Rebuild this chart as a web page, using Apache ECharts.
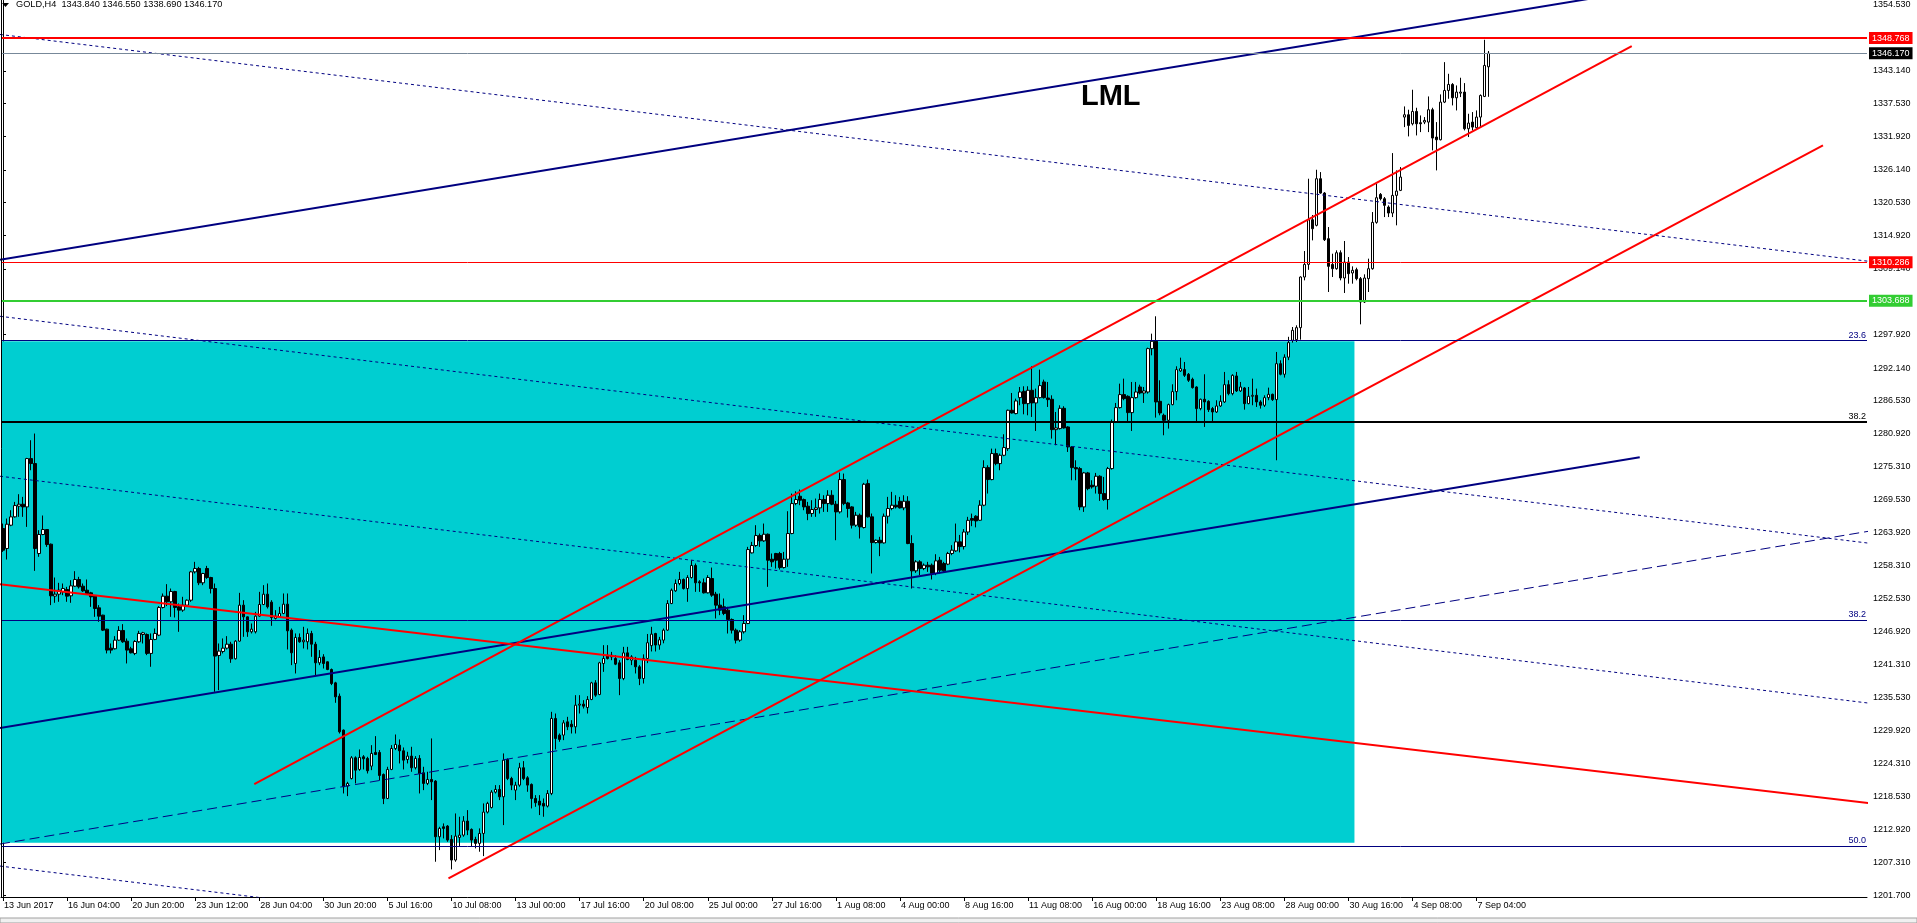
<!DOCTYPE html>
<html><head><meta charset="utf-8">
<script src="https://cdn.jsdelivr.net/npm/echarts@6/dist/echarts.min.js"></script>
<style>html,body{margin:0;padding:0;background:#fff;overflow:hidden}#c{width:1917px;height:923px}</style>
</head><body><div id="c"></div>
<script>
// H4 candles, 13 Jun 2017 12:00 -> 7 Sep 2017 16:00 : [open, close, low, high]
const candles = [
[1264.60,1260.88,1260.59,1265.45],[1261.17,1265.34,1259.28,1266.31],[1265.17,1266.60,1265.00,1267.74],[1266.60,1268.54,1266.48,1269.17],
[1268.43,1268.77,1266.60,1270.49],[1268.77,1268.31,1266.60,1270.03],[1268.31,1276.60,1264.88,1276.72],[1276.60,1275.75,1274.60,1279.75],
[1275.75,1261.17,1257.33,1280.90],[1260.31,1263.57,1259.74,1264.31],[1263.57,1264.43,1263.45,1266.83],[1264.43,1261.85,1261.45,1264.50],
[1261.91,1253.05,1251.45,1262.02],[1253.00,1253.33,1251.85,1256.19],[1253.33,1254.02,1252.02,1255.28],[1253.73,1254.30,1253.16,1255.16],
[1254.13,1252.99,1252.02,1254.59],[1253.05,1254.76,1251.85,1255.73],[1254.70,1255.85,1254.59,1257.28],[1255.85,1254.59,1254.30,1256.31],
[1254.70,1253.90,1253.73,1255.16],[1254.02,1253.45,1253.33,1255.85],[1253.56,1252.88,1251.16,1253.73],[1252.99,1250.87,1249.44,1253.16],
[1250.99,1249.56,1248.59,1251.45],[1249.73,1247.16,1247.00,1249.80],[1247.33,1243.73,1243.16,1247.40],[1244.07,1243.73,1243.16,1244.87],
[1243.96,1245.44,1243.84,1246.13],[1245.44,1247.10,1245.33,1247.84],[1247.10,1245.16,1244.98,1248.19],[1245.27,1243.73,1241.44,1245.73],
[1243.96,1243.27,1243.16,1244.30],[1243.16,1245.21,1242.87,1245.44],[1245.16,1246.59,1244.98,1247.04],[1246.41,1246.70,1244.87,1246.87],
[1246.41,1243.16,1242.87,1246.59],[1243.16,1245.56,1240.87,1246.59],[1245.56,1246.59,1245.44,1247.44],[1246.30,1251.05,1246.13,1251.28],
[1251.05,1252.99,1250.87,1253.45],[1252.99,1252.02,1251.28,1255.05],[1252.02,1253.79,1249.44,1254.30],[1253.79,1251.05,1249.33,1253.90],
[1251.16,1250.59,1246.87,1251.73],[1250.59,1251.45,1250.30,1252.88],[1251.45,1252.30,1251.16,1252.42],[1252.30,1257.16,1252.02,1257.33],
[1257.16,1257.74,1256.88,1258.88],[1257.74,1255.28,1254.88,1258.02],[1255.28,1256.88,1254.88,1256.99],[1257.74,1256.19,1255.96,1258.19],
[1256.19,1254.30,1253.45,1256.31],[1254.30,1242.70,1236.58,1255.16],[1242.81,1243.56,1236.86,1244.87],[1243.50,1244.07,1243.16,1245.73],
[1244.07,1244.75,1243.84,1246.13],[1244.75,1242.24,1241.55,1245.16],[1242.24,1245.27,1242.13,1245.44],[1245.27,1251.45,1245.16,1253.56],
[1251.45,1249.44,1246.01,1252.30],[1249.44,1246.87,1246.01,1249.50],[1246.87,1247.33,1246.59,1248.30],[1246.87,1249.56,1246.59,1250.30],
[1249.56,1251.56,1249.44,1253.73],[1251.56,1253.33,1251.45,1254.88],[1253.33,1251.16,1250.87,1255.16],[1251.96,1249.33,1247.90,1252.30],
[1249.16,1249.56,1248.99,1250.59],[1249.44,1250.02,1249.27,1251.16],[1250.02,1251.62,1249.90,1253.45],[1251.62,1247.04,1243.84,1253.45],
[1247.16,1243.27,1241.15,1247.44],[1241.44,1245.90,1239.72,1246.59],[1245.90,1245.16,1245.00,1246.59],[1245.16,1245.44,1244.01,1247.73],
[1245.16,1246.59,1243.84,1247.44],[1246.59,1244.75,1242.58,1247.04],[1244.75,1241.55,1239.44,1245.16],[1241.55,1242.47,1241.15,1243.73],
[1242.57,1241.43,1240.57,1243.03],[1241.72,1240.40,1240.29,1241.80],[1240.40,1238.00,1237.72,1240.57],[1238.11,1235.71,1234.69,1238.29],
[1235.83,1229.71,1229.42,1236.28],[1230.00,1220.28,1219.13,1230.11],[1220.39,1220.85,1218.67,1221.13],[1221.70,1225.25,1221.53,1225.54],
[1225.25,1223.13,1220.85,1225.50],[1223.25,1225.31,1223.02,1226.68],[1225.42,1225.08,1223.25,1225.71],[1225.14,1223.02,1222.56,1225.42],
[1223.82,1226.00,1223.13,1227.42],[1226.17,1225.82,1225.71,1228.97],[1226.17,1222.22,1221.42,1226.57],[1222.39,1218.27,1217.30,1222.56],
[1218.27,1223.25,1218.16,1223.71],[1223.25,1226.85,1223.13,1227.42],[1226.85,1227.54,1226.57,1229.25],[1227.42,1226.45,1224.28,1228.40],
[1226.45,1224.85,1223.25,1227.02],[1224.96,1225.54,1224.28,1226.28],[1225.54,1223.54,1222.85,1227.14],[1223.54,1225.14,1223.25,1225.54],
[1225.14,1222.56,1219.13,1225.71],[1222.68,1220.85,1219.70,1223.71],[1220.85,1221.53,1220.56,1222.85],[1221.53,1221.13,1217.99,1228.57],
[1221.25,1211.70,1207.41,1221.42],[1211.70,1213.13,1209.41,1213.41],[1213.41,1213.13,1211.41,1213.99],[1213.53,1211.13,1210.84,1213.70],
[1211.24,1207.70,1206.10,1211.98],[1207.70,1211.81,1207.41,1215.70],[1211.58,1211.98,1209.98,1215.13],[1211.98,1214.39,1211.70,1215.24],
[1214.39,1212.84,1211.98,1216.27],[1212.96,1211.13,1209.98,1213.13],[1211.24,1210.56,1209.70,1211.70],[1210.56,1212.27,1209.13,1213.13],
[1212.27,1215.93,1208.38,1217.42],[1215.93,1217.42,1215.70,1217.70],[1216.73,1219.36,1216.56,1219.70],[1219.36,1219.82,1219.13,1220.56],
[1219.82,1218.56,1217.99,1220.56],[1218.56,1224.85,1213.70,1226.00],[1224.96,1221.70,1221.42,1225.14],[1221.70,1220.56,1219.70,1221.99],
[1219.70,1220.56,1217.99,1221.13],[1220.56,1223.54,1220.28,1224.39],[1223.54,1221.70,1221.42,1224.68],[1221.82,1220.56,1219.42,1222.10],
[1220.68,1218.27,1216.56,1220.85],[1218.27,1217.53,1216.84,1218.84],[1217.82,1217.13,1215.42,1218.84],[1217.42,1216.96,1215.13,1218.27],
[1216.96,1219.13,1216.73,1219.70],[1219.13,1232.00,1218.84,1233.14],[1232.00,1228.57,1226.68,1232.85],[1229.14,1228.40,1228.00,1229.42],
[1229.14,1231.25,1228.28,1231.71],[1231.42,1230.57,1230.00,1232.28],[1231.02,1230.57,1229.42,1231.71],[1230.57,1234.28,1229.42,1236.00],
[1234.28,1234.46,1232.85,1236.00],[1234.46,1234.11,1233.71,1235.14],[1233.88,1235.26,1232.85,1235.83],[1235.26,1238.11,1235.14,1238.29],
[1238.11,1236.00,1235.71,1238.57],[1236.11,1241.55,1236.00,1241.72],[1241.43,1242.29,1240.00,1244.58],[1242.86,1242.29,1242.12,1244.58],
[1242.57,1242.86,1242.00,1243.43],[1242.29,1241.32,1241.15,1242.86],[1241.55,1238.86,1236.00,1242.00],[1238.86,1243.26,1238.57,1244.29],
[1243.26,1242.12,1242.00,1244.29],[1242.00,1242.57,1241.15,1242.86],[1242.00,1240.86,1239.72,1242.57],[1240.86,1238.86,1237.72,1241.15],
[1238.86,1242.30,1238.00,1243.00],[1242.30,1245.00,1241.50,1246.50],[1244.50,1246.47,1243.50,1247.73],[1246.58,1244.60,1243.50,1246.70],
[1244.60,1245.50,1243.80,1246.00],[1245.44,1247.16,1244.90,1247.44],[1247.16,1251.73,1247.04,1252.30],[1251.73,1254.02,1251.62,1254.30],
[1253.90,1255.16,1253.73,1255.85],[1255.16,1255.85,1254.87,1257.16],[1255.85,1254.30,1254.13,1256.02],[1254.30,1256.19,1252.02,1256.59],
[1256.19,1258.25,1256.02,1259.16],[1258.25,1255.28,1253.73,1258.59],[1255.45,1255.28,1253.73,1255.73],[1255.28,1253.56,1253.45,1256.02],
[1253.56,1256.19,1253.45,1256.59],[1256.02,1253.16,1252.87,1257.90],[1253.33,1251.45,1249.16,1253.73],[1251.45,1250.59,1249.73,1253.45],
[1251.16,1250.02,1249.73,1252.59],[1250.59,1248.99,1246.58,1251.16],[1248.99,1247.16,1246.58,1249.16],[1247.16,1245.44,1244.87,1247.44],
[1245.44,1246.87,1245.16,1247.16],[1246.87,1248.30,1246.58,1249.73],[1248.30,1260.99,1248.19,1261.45],[1260.42,1261.68,1260.31,1262.31],
[1261.68,1263.39,1261.45,1265.17],[1263.39,1262.48,1261.45,1263.74],[1262.48,1263.62,1262.31,1265.45],[1263.62,1259.16,1254.59,1263.74],
[1259.33,1258.88,1258.02,1260.31],[1260.31,1259.16,1257.73,1260.42],[1260.31,1257.90,1257.56,1260.59],[1257.90,1259.33,1257.73,1260.59],
[1259.33,1263.74,1258.02,1267.57],[1263.74,1268.88,1263.62,1270.60],[1268.88,1269.57,1268.60,1270.99],[1270.14,1269.46,1268.60,1271.29],
[1269.57,1268.31,1267.74,1269.74],[1268.43,1267.17,1266.03,1269.17],[1267.17,1267.86,1266.60,1269.46],[1267.86,1268.14,1266.60,1269.74],
[1268.14,1269.57,1267.17,1270.60],[1269.57,1268.88,1267.45,1270.31],[1268.88,1270.31,1267.45,1271.17],[1270.31,1268.77,1268.60,1271.17],
[1268.77,1267.45,1262.59,1269.34],[1267.45,1273.00,1267.17,1274.20],[1273.00,1268.88,1268.60,1274.03],[1268.99,1268.03,1266.48,1269.17],
[1268.31,1265.17,1264.60,1268.43],[1265.17,1266.88,1264.88,1267.45],[1266.88,1264.88,1262.88,1267.17],[1264.77,1272.20,1264.60,1272.43],
[1272.31,1266.60,1266.48,1273.00],[1266.60,1262.19,1256.88,1267.17],[1262.19,1262.59,1262.02,1262.71],[1262.59,1262.13,1259.85,1263.17],
[1262.13,1266.71,1262.02,1267.17],[1266.71,1268.03,1265.45,1270.03],[1268.03,1268.60,1267.74,1270.89],[1268.60,1268.31,1268.03,1270.31],
[1269.28,1268.14,1268.03,1270.03],[1268.14,1269.28,1267.74,1270.31],[1269.28,1262.02,1261.91,1270.14],[1262.02,1257.33,1254.30,1263.45],
[1257.33,1258.88,1256.99,1259.16],[1258.88,1257.73,1256.59,1259.16],[1257.73,1258.31,1257.45,1258.59],[1258.31,1258.02,1257.16,1258.88],
[1258.31,1256.88,1255.85,1258.59],[1256.88,1259.05,1256.59,1260.19],[1259.16,1257.45,1256.88,1259.73],[1258.59,1257.33,1257.16,1258.88],
[1258.48,1260.31,1258.31,1260.59],[1260.31,1260.88,1260.02,1261.74],[1260.76,1262.31,1260.59,1265.45],[1262.31,1261.50,1260.50,1263.50],
[1261.50,1264.00,1261.00,1264.50],[1264.00,1266.00,1263.50,1266.60],[1266.31,1266.02,1265.00,1267.16],[1266.71,1265.90,1264.80,1266.88],
[1266.02,1268.60,1265.90,1269.45],[1268.60,1275.05,1268.42,1276.31],[1275.05,1273.00,1270.60,1275.45],[1273.00,1277.46,1272.88,1278.31],
[1277.46,1275.74,1275.45,1278.31],[1275.74,1277.17,1274.60,1277.46],[1277.17,1278.49,1277.00,1280.77],[1278.31,1284.89,1277.91,1285.00],
[1284.89,1284.43,1284.32,1287.86],[1284.32,1286.49,1284.20,1286.89],[1287.06,1288.03,1285.75,1288.89],[1288.15,1286.03,1284.20,1289.01],
[1286.03,1288.32,1284.03,1289.01],[1288.32,1286.15,1283.75,1292.44],[1286.15,1287.06,1281.34,1288.61],[1287.06,1289.12,1286.89,1291.87],
[1289.75,1287.06,1286.89,1290.15],[1287.00,1286.72,1285.46,1289.75],[1286.78,1281.57,1280.03,1287.46],[1281.57,1281.86,1278.89,1284.60],
[1281.75,1285.23,1281.57,1285.75],[1285.23,1281.86,1281.75,1285.58],[1282.03,1278.60,1277.74,1282.15],[1278.60,1275.05,1272.88,1278.71],
[1275.05,1274.83,1272.88,1276.31],[1274.88,1268.31,1267.74,1275.17],[1268.31,1274.14,1267.45,1274.31],[1274.14,1271.45,1271.17,1274.31],
[1272.03,1271.74,1271.45,1272.88],[1271.86,1273.57,1270.60,1274.14],[1273.57,1270.60,1269.34,1273.74],[1270.60,1269.57,1269.34,1273.45],
[1269.57,1274.88,1267.85,1275.17],[1274.88,1282.89,1274.71,1283.29],[1282.90,1285.35,1282.70,1286.15],[1285.35,1287.58,1285.18,1289.46],
[1287.58,1286.89,1286.61,1290.32],[1287.29,1284.49,1282.89,1287.46],[1284.49,1287.06,1281.34,1289.75],[1287.06,1288.03,1286.89,1289.75],
[1288.89,1287.86,1287.63,1289.29],[1287.86,1288.21,1286.15,1288.89],[1288.03,1295.47,1287.75,1295.64],[1295.47,1296.73,1294.32,1298.04],
[1296.73,1286.32,1283.63,1301.02],[1286.43,1284.43,1284.03,1290.04],[1284.03,1283.17,1280.60,1284.32],[1283.17,1285.86,1281.75,1286.03],
[1285.86,1288.09,1285.75,1289.35],[1288.09,1291.87,1286.61,1292.44],[1291.64,1292.04,1291.47,1293.92],[1291.87,1290.89,1290.61,1293.18],
[1291.07,1290.04,1289.75,1291.29],[1290.21,1288.78,1288.61,1290.49],[1288.89,1285.18,1282.89,1289.01],[1285.18,1286.78,1284.89,1286.89],
[1286.78,1286.32,1282.03,1291.07],[1286.43,1285.00,1284.60,1286.61],[1285.18,1284.60,1282.89,1285.46],[1284.60,1285.63,1284.43,1286.61],
[1285.63,1286.43,1285.46,1287.46],[1286.32,1289.29,1286.15,1291.47],[1289.29,1287.75,1287.46,1290.04],[1287.75,1290.89,1287.46,1291.07],
[1290.78,1288.21,1288.03,1291.47],[1288.21,1288.89,1288.03,1289.75],[1288.72,1286.03,1285.00,1288.89],[1286.03,1287.29,1285.92,1288.89],
[1287.29,1287.46,1285.75,1290.32],[1287.46,1286.32,1285.46,1288.61],[1286.32,1285.75,1285.18,1286.61],[1285.75,1287.06,1285.46,1287.46],
[1287.06,1287.63,1286.61,1288.78],[1287.63,1286.72,1286.49,1287.75],[1286.72,1292.89,1276.31,1294.90],[1292.89,1291.07,1290.89,1293.47],
[1291.07,1294.00,1290.50,1294.50],[1294.00,1296.50,1293.50,1297.50],[1296.90,1298.61,1296.50,1299.18],[1297.00,1299.07,1296.60,1299.47],
[1299.07,1307.76,1297.01,1307.88],[1307.76,1309.93,1307.19,1312.22],[1309.93,1317.59,1309.00,1324.63],[1317.59,1316.05,1314.05,1318.40],
[1316.63,1324.63,1316.45,1326.17],[1324.63,1322.17,1322.06,1325.77],[1322.17,1314.16,1313.94,1322.34],[1314.34,1309.59,1305.19,1316.34],
[1309.93,1309.19,1307.76,1311.76],[1309.19,1311.93,1309.02,1312.34],[1311.93,1307.59,1307.19,1312.34],[1307.59,1310.33,1305.02,1313.94],
[1310.33,1308.33,1306.62,1311.19],[1308.45,1308.91,1306.62,1309.59],[1309.02,1307.48,1307.19,1309.36],[1307.48,1303.47,1299.64,1307.76],
[1303.47,1307.59,1303.30,1308.22],[1307.48,1309.19,1305.19,1310.91],[1309.19,1317.14,1309.02,1318.91],[1317.14,1321.37,1316.91,1323.77],
[1321.94,1321.20,1320.91,1322.17],[1321.20,1320.06,1318.05,1321.49],[1319.77,1318.74,1318.05,1320.06],[1318.74,1321.77,1318.05,1329.03],
[1321.77,1322.51,1316.63,1326.06],[1322.63,1324.92,1322.51,1326.63],[1335.21,1335.61,1333.49,1337.04],[1335.61,1333.78,1331.89,1336.47],
[1334.06,1336.18,1333.78,1339.90],[1336.18,1334.06,1332.06,1336.81],[1334.24,1334.06,1332.63,1335.49],[1334.35,1334.64,1334.00,1335.21],
[1334.35,1336.47,1332.63,1338.75],[1336.47,1331.61,1329.49,1336.81],[1331.78,1331.32,1326.06,1334.35],[1331.32,1337.78,1331.21,1339.10],
[1337.78,1339.78,1337.61,1344.64],[1339.78,1340.81,1338.35,1342.64],[1340.81,1338.52,1337.21,1341.04],[1338.52,1339.50,1336.35,1340.64],
[1339.32,1339.50,1338.64,1341.96],[1339.50,1333.21,1332.92,1341.04],[1333.21,1334.18,1331.78,1335.78],[1334.35,1333.49,1332.92,1336.07],
[1333.38,1335.21,1333.21,1336.35],[1335.21,1338.92,1333.49,1339.10],[1338.75,1344.07,1338.64,1348.47],[1343.84,1346.17,1338.69,1346.55]
];

const timeLabels = ['13 Jun 2017','16 Jun 04:00','20 Jun 20:00','23 Jun 12:00','28 Jun 04:00','30 Jun 20:00','5 Jul 16:00',
 '10 Jul 08:00','13 Jul 00:00','17 Jul 16:00','20 Jul 08:00','25 Jul 00:00','27 Jul 16:00','1 Aug 08:00','4 Aug 00:00',
 '8 Aug 16:00','11 Aug 08:00','16 Aug 00:00','18 Aug 16:00','23 Aug 08:00','28 Aug 00:00','30 Aug 16:00','4 Sep 08:00','7 Sep 04:00'];
const labelEvery = 16;
const totalSlots = 466;

const priceTicks = [1201.70,1207.31,1212.92,1218.53,1224.31,1229.92,1235.53,1241.31,1246.92,1252.53,1258.31,1263.92,
 1269.53,1275.31,1280.92,1286.53,1292.14,1297.92,1309.14,1314.92,1320.53,1326.14,1331.92,1337.53,1343.14,1354.53];

// objects drawn on the chart: [barIndex, price] end points
const navyUpperLine = [[-0.75,1310.71],[420,1358.2]];
const navyLowerLine = [[-0.75,1230.35],[408.75,1276.83]];
const redChannelTop = [[62.75,1220.74],[406.75,1347.38]];
const redChannelBottom = [[111.25,1204.55],[454.5,1330.35]];
const redFalling = [[-0.75,1255.05],[466,1217.48]];
const navyDashed = [[-0.75,1210.45],[466,1264.14]];
const dotLineA = [[-0.75,1349.39],[466,1310.45]];
const dotLineB = [[-0.75,1301.02],[466,1262.08]];
const dotLineC = [[-0.75,1273.57],[466,1234.63]];
const dotLineD = [[-0.75,1206.67],[80,1199.94]];
const boxBars = [-0.75, 337.5];
const boxPrices = [1210.67, 1296.73];

const redLevel = 1348.768, askLine = 1346.170, redLevel2 = 1310.286, greenLevel = 1303.688;
const fibLevels = [1296.85, 1282.87, 1248.85, 1210.05];
const fibNames = ['23.6','38.2','38.2','50.0'];
const fibColors = ['#000080','#000000','#000080','#000080'];
const fibWidths = [1, 2, 1, 1];

const FONT = 'Liberation Sans';
const chart = echarts.init(document.getElementById('c'));

function seg(pts, color, width, type) {
  return { type:'line', xAxisIndex:1, yAxisIndex:0, data:pts, symbol:'none', silent:true, z:4,
    lineStyle:{color:color, width:width, type:type||'solid'}, animation:false };
}
function boxLabel(txt, bg) {
  return { show:true, position:'end', distance:2, formatter:txt, backgroundColor:bg, color:'#fff',
    fontFamily:FONT, fontSize:9, padding:[1,3,1,3], lineHeight:10 };
}
const marks = [
  {yAxis:redLevel, lineStyle:{color:'#ff0000', width:2, type:'solid'}, label:boxLabel('1348.768','#ff0000')},
  {yAxis:askLine, lineStyle:{color:'#778899', width:1, type:'solid'}, label:boxLabel('1346.170','#000000')},
  {yAxis:redLevel2, lineStyle:{color:'#ff0000', width:1, type:'solid'}, label:boxLabel('1310.286','#ff0000')},
  {yAxis:greenLevel, lineStyle:{color:'#32cd32', width:2, type:'solid'}, label:boxLabel('1303.688','#32cd32')}
];
fibLevels.forEach((v,i)=>marks.push({yAxis:v, lineStyle:{color:fibColors[i], width:fibWidths[i], type:'solid'},
  label:{show:true, position:'insideEndTop', distance:1, formatter:fibNames[i], color:fibColors[i], fontFamily:FONT, fontSize:9}}));

const cats = Array.from({length:totalSlots}, (_, i) => String(i));
const showIdx = (i) => i % labelEvery === 0 && i / labelEvery < timeLabels.length;

chart.setOption({
  animation:false,
  backgroundColor:'#ffffff',
  grid:{left:1, right:50, top:0, bottom:26, containLabel:false},
  xAxis:[
    {type:'category', data:cats, boundaryGap:true,
     axisLine:{show:true, lineStyle:{color:'#000', width:1}},
     axisTick:{show:true, alignWithLabel:true, interval:(i)=>showIdx(i), length:4, lineStyle:{color:'#000'}},
     axisLabel:{show:true, interval:(i)=>showIdx(i), formatter:(v, i)=>timeLabels[i/labelEvery] || '',
       align:'left', padding:[0,0,0,1], margin:4, color:'#000', fontFamily:FONT, fontSize:9},
     splitLine:{show:false}},
    {type:'value', min:-0.5, max:totalSlots-0.5, show:false}
  ],
  yAxis:[{type:'value', position:'right', min:1201.36, max:1355.22, scale:true,
     axisLine:{show:true, lineStyle:{color:'#000', width:1}},
     axisTick:{show:true, customValues:priceTicks, length:3, lineStyle:{color:'#000'}},
     axisLabel:{show:true, customValues:priceTicks, formatter:(v)=>v.toFixed(3), margin:6, color:'#000', fontFamily:FONT, fontSize:9},
     splitLine:{show:false}}],
  graphic:[
    {type:'line', shape:{x1:1.5, y1:0, x2:1.5, y2:897}, style:{stroke:'#000', lineWidth:1}, z:10},
    {type:'polygon', shape:{points:[[2,3],[9,3],[5.5,7]]}, style:{fill:'#000'}, z:10},
    {type:'text', left:16, top:0, style:{text:'GOLD,H4  1343.840 1346.550 1338.690 1346.170', fill:'#000', font:'9.2px "Liberation Sans"'}, z:10},
    {type:'text', left:1081, top:82, style:{text:'LML', fill:'#000', font:'bold 29px "Liberation Sans"'}, z:10},
    {type:'rect', shape:{x:0, y:918, width:1917, height:5}, style:{fill:'#f0f0f0', stroke:'#a0a0a0', lineWidth:1}, z:10}
  ],
  series:[
    {type:'line', xAxisIndex:1, yAxisIndex:0, data:[[boxBars[0],boxPrices[1]],[boxBars[1],boxPrices[0]]], symbol:'none',
     lineStyle:{opacity:0}, silent:true, z:1,
     markArea:{silent:true, itemStyle:{color:'#00ced1', opacity:1}, data:[[{coord:[boxBars[0],boxPrices[1]]},{coord:[boxBars[1],boxPrices[0]]}]]}},
    {type:'candlestick', xAxisIndex:0, yAxisIndex:0, data:candles, barWidth:3, z:3, silent:true,
     itemStyle:{color:'#ffffff', color0:'#000000', borderColor:'#000000', borderColor0:'#000000', borderWidth:1}},
    seg(dotLineA, '#000080', 1, [3,3]),
    seg(dotLineB, '#000080', 1, [3,3]),
    seg(dotLineC, '#000080', 1, [3,3]),
    seg(dotLineD, '#000080', 1, [3,3]),
    seg(navyDashed, '#000080', 1, [10,5]),
    seg(navyUpperLine, '#000080', 2),
    seg(navyLowerLine, '#000080', 2),
    seg(redFalling, '#ff0000', 2),
    seg(redChannelTop, '#ff0000', 2),
    seg(redChannelBottom, '#ff0000', 2),
    {type:'line', xAxisIndex:1, yAxisIndex:0, data:[], symbol:'none', silent:true, z:5,
     markLine:{silent:true, symbol:['none','none'], animation:false, data:marks}}
  ]
});
</script></body></html>
